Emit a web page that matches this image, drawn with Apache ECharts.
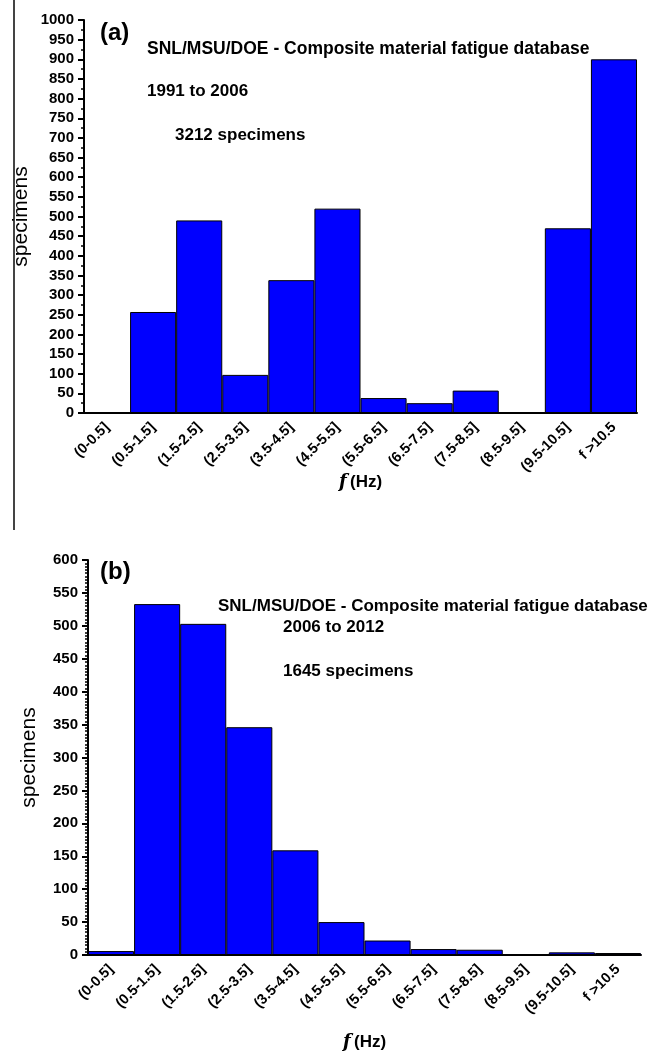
<!DOCTYPE html>
<html>
<head>
<meta charset="utf-8">
<title>Fatigue database frequency histograms</title>
<script src="https://cdn.jsdelivr.net/npm/echarts@6.0.0/dist/echarts.min.js"></script>
<style>
  html, body { margin: 0; padding: 0; background: #fff; }
  #chart { width: 667px; height: 1057px; }
</style>
</head>
<body>
<div id="chart"></div>
<script>
// frequency bins (Hz)
var bins = ['(0-0.5]', '(0.5-1.5]', '(1.5-2.5]', '(2.5-3.5]', '(3.5-4.5]', '(4.5-5.5]',
  '(5.5-6.5]', '(6.5-7.5]', '(7.5-8.5]', '(8.5-9.5]', '(9.5-10.5]', 'f >10.5'];

// (a) 1991 to 2006, 3212 specimens
var countsA = [2, 257, 490, 97, 338, 520, 38, 25, 57, 0, 470, 900];
// (b) 2006 to 2012, 1645 specimens
var countsB = [6, 533, 503, 346, 159, 50, 22, 9, 8, 1, 4, 3];

var font = 'Liberation Sans, Arial, sans-serif';

function xAxisFor(gridIndex, gap) {
  return {
    type: 'category',
    gridIndex: gridIndex,
    data: bins,
    axisLine: { lineStyle: { color: '#000', width: 2 } },
    axisTick: { alignWithLabel: true, length: 7, lineStyle: { color: '#000', width: 2 } },
    axisLabel: { rotate: 45, margin: 12, color: '#000', fontSize: 14.5, fontWeight: 'bold', fontFamily: font },
    name: '{f|f} {hz|(Hz)}',
    nameLocation: 'middle',
    nameGap: gap,
    nameMoveOverlap: false,
    nameTextStyle: {
      rich: {
        f: { fontFamily: 'DejaVu Serif, serif', fontStyle: 'italic', fontWeight: 'bold', fontSize: 18, color: '#000' },
        hz: { fontFamily: font, fontWeight: 'bold', fontSize: 17, color: '#000' }
      }
    }
  };
}

function yAxisFor(gridIndex, max, split, gap) {
  return {
    type: 'value',
    gridIndex: gridIndex,
    min: 0,
    max: max,
    interval: 50,
    splitLine: { show: false },
    axisLine: { show: true, lineStyle: { color: '#000', width: 2 } },
    axisTick: { show: true, length: 6, lineStyle: { color: '#000', width: 2 } },
    minorTick: { show: true, splitNumber: split, length: 3, lineStyle: { color: '#000', width: 1.5 } },
    axisLabel: {
      color: '#000', fontSize: 15, fontWeight: 'bold', fontFamily: font, margin: 10,
      formatter: function (v) { return String(v); }
    },
    name: 'specimens',
    nameLocation: 'middle',
    nameGap: gap,
    nameMoveOverlap: false,
    nameTextStyle: { color: '#000', fontSize: 21, fontFamily: font }
  };
}

function barSeries(idx, data) {
  return {
    type: 'bar',
    xAxisIndex: idx,
    yAxisIndex: idx,
    data: data,
    barWidth: '100%',
    barCategoryGap: '0%',
    itemStyle: { color: '#0000ff', borderColor: '#000', borderWidth: 1 },
    animation: false
  };
}

function label(x, y, text, size) {
  return {
    type: 'text',
    left: x,
    top: y,
    style: { text: text, fill: '#000', font: 'bold ' + size + 'px ' + font }
  };
}

var chart = echarts.init(document.getElementById('chart'));
chart.setOption({
  backgroundColor: '#fff',
  animation: false,
  grid: [
    { left: 84, top: 20, width: 553, height: 393 },
    { left: 88, top: 560, width: 553, height: 395 }
  ],
  xAxis: [xAxisFor(0, 60), xAxisFor(1, 78)],
  yAxis: [yAxisFor(0, 1000, 2, 52), yAxisFor(1, 600, 10, 48)],
  series: [barSeries(0, countsA), barSeries(1, countsB)],
  graphic: [
    { type: 'line', shape: { x1: 14, y1: 0, x2: 14, y2: 530 }, style: { stroke: '#444', lineWidth: 2 } },
    label(100, 21, '(a)', 24),
    label(147, 40, 'SNL/MSU/DOE - Composite material fatigue database', 17.5),
    label(147, 83, '1991 to 2006', 17),
    label(175, 127, '3212 specimens', 17),
    label(100, 560, '(b)', 24),
    label(218, 598, 'SNL/MSU/DOE - Composite material fatigue database', 17),
    label(283, 619, '2006 to 2012', 17),
    label(283, 663, '1645 specimens', 17)
  ]
});
</script>
</body>
</html>
